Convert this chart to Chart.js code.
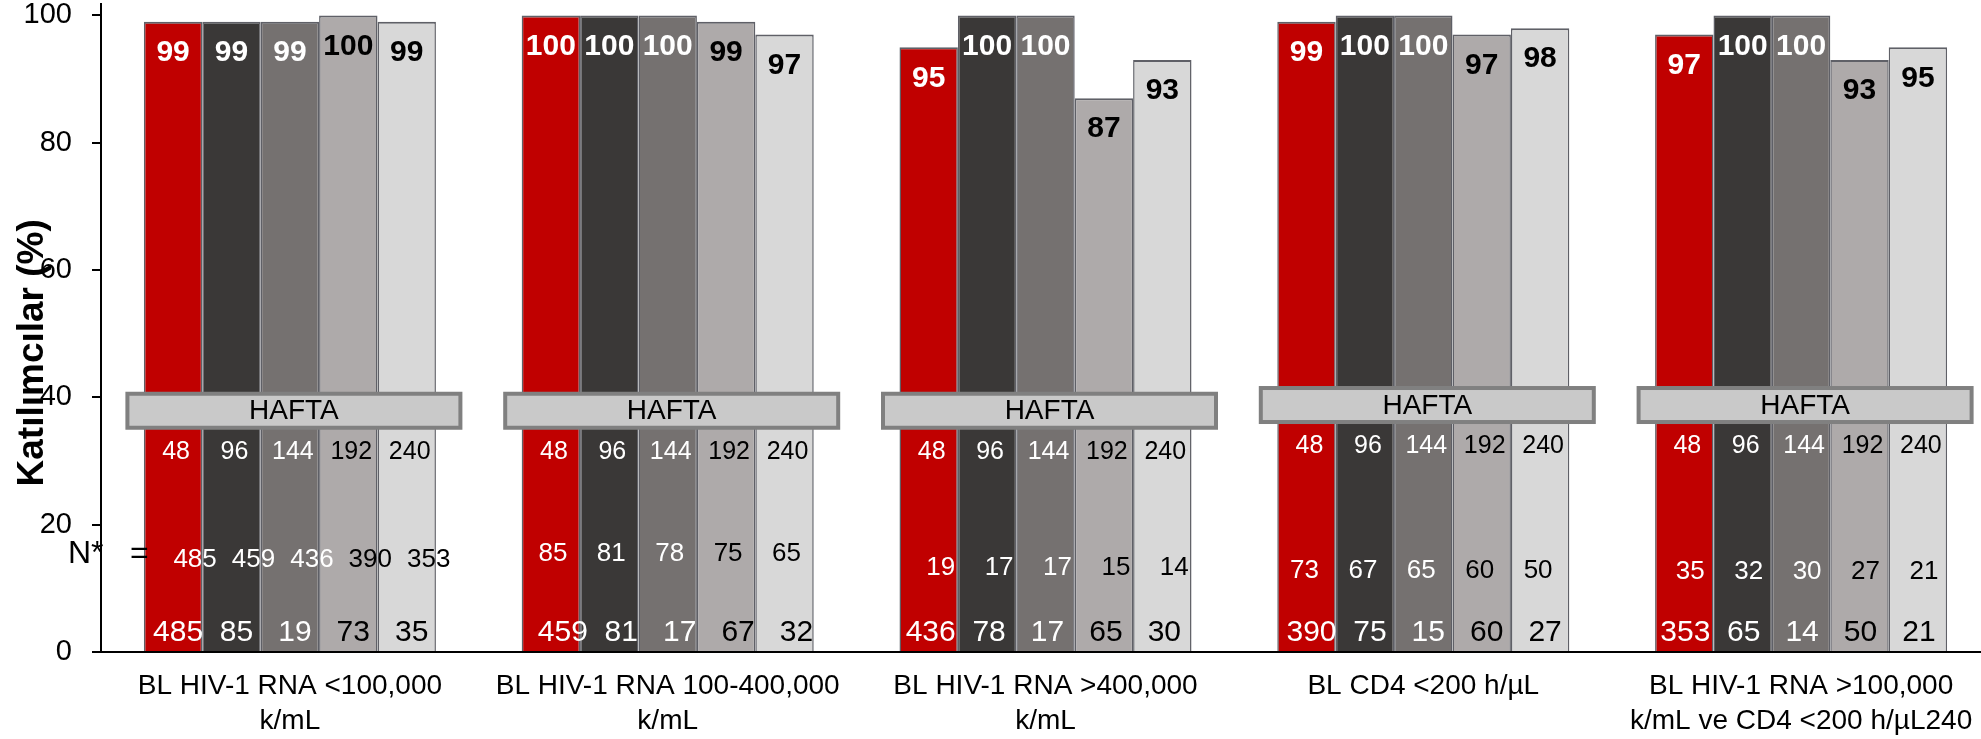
<!DOCTYPE html>
<html lang="tr">
<head>
<meta charset="utf-8">
<title>Katılımcılar (%)</title>
<script src="https://cdn.jsdelivr.net/npm/chart.js@4/dist/chart.umd.min.js"></script>
<style>
  html, body { margin: 0; padding: 0; background: #ffffff; overflow: hidden; }
  #wrap { position: relative; width: 1990px; height: 739px; }
</style>
</head>
<body>
<div id="wrap"><canvas id="chart"></canvas></div>
<script>
// Subgroups (x-axis categories)
const categories = [
  ['BL HIV-1 RNA <100,000', 'k/mL'],
  ['BL HIV-1 RNA 100-400,000', 'k/mL'],
  ['BL HIV-1 RNA >400,000', 'k/mL'],
  'BL CD4 <200 h/µL',
  ['BL HIV-1 RNA >100,000', 'k/mL ve CD4 <200 h/µL240']
];

// Week labels (one series per week)
const weeks = ['48', '96', '144', '192', '240'];

// Participants (%) per subgroup, one array per week
const week48  = [99, 100, 95, 99, 97];
const week96  = [99, 100, 100, 100, 100];
const week144 = [99, 100, 100, 100, 100];
const week192 = [100, 99, 87, 97, 93];
const week240 = [99, 97, 93, 98, 95];

// N* counts printed under the week row, per subgroup (in week order)
const nStarRow = [
  [485, 459, 436, 390, 353],
  [85, 81, 78, 75, 65],
  [19, 17, 17, 15, 14],
  [73, 67, 65, 60, 50],
  [35, 32, 30, 27, 21]
];

// Counts printed at the foot of the bars, per subgroup (in week order)
const nBaseRow = [
  [485, 85, 19, 73, 35],
  [459, 81, 17, 67, 32],
  [436, 78, 17, 65, 30],
  [390, 75, 15, 60, 27],
  [353, 65, 14, 50, 21]
];

const yTicks = [0, 20, 40, 60, 80, 100];

const seriesValues = [week48, week96, week144, week192, week240];
const fills = ['#C00000', '#3A3837', '#757170', '#AEAAAA', '#D8D8D8'];
const textColours = ['#ffffff', '#ffffff', '#ffffff', '#000000', '#000000'];
const FONT = '"Liberation Sans", Arial, sans-serif';

// Placement of the annotation rows (value units on the y scale / pixel shifts)
const boxCentre = [37.9, 37.9, 37.9, 38.8, 38.8];
const nStarLevel = [14.5, 15.4, 13.2, 12.7, 12.6];
const nStarShift = [22, 2, 12, -2, 6];
const nBaseLevel = 3.1;
const nBaseShift = [5, 12, 2, 5, 1];

const annotations = {
  id: 'annotations',
  afterDatasetsDraw(chart) {
    const ctx = chart.ctx;
    const y = chart.scales.y;
    const metas = seriesValues.map((_, i) => chart.getDatasetMeta(i));
    ctx.save();

    // value labels at the top of each bar
    ctx.font = 'bold 30px ' + FONT;
    ctx.textAlign = 'center';
    ctx.textBaseline = 'middle';
    metas.forEach((meta, d) => {
      ctx.fillStyle = textColours[d];
      meta.data.forEach((bar, g) => {
        ctx.fillText(String(seriesValues[d][g]), bar.x, bar.y + 31);
      });
    });

    categories.forEach((_, g) => {
      const first = metas[0].data[g];
      const last = metas[metas.length - 1].data[g];
      const left = first.x - first.width / 2;
      const right = last.x + last.width / 2;
      const cx = (left + right) / 2 + 4;
      const cy = y.getPixelForValue(boxCentre[g]);

      // "HAFTA" banner
      const bw = 333, bh = 34;
      ctx.fillStyle = '#C9C9C9';
      ctx.fillRect(cx - bw / 2, cy - bh / 2, bw, bh);
      ctx.strokeStyle = '#808080';
      ctx.lineWidth = 4;
      ctx.strokeRect(cx - bw / 2, cy - bh / 2, bw, bh);
      ctx.fillStyle = '#000000';
      ctx.font = '28px ' + FONT;
      ctx.textAlign = 'center';
      ctx.textBaseline = 'middle';
      ctx.fillText('HAFTA', cx, cy + 1);

      metas.forEach((meta, d) => {
        const bar = meta.data[g];
        ctx.fillStyle = textColours[d];
        ctx.font = '25px ' + FONT;
        ctx.fillText(weeks[d], bar.x + 3, cy + 41);
        ctx.font = '26px ' + FONT;
        ctx.fillText(String(nStarRow[g][d]), bar.x + nStarShift[g], y.getPixelForValue(nStarLevel[g]));
        ctx.font = '30px ' + FONT;
        ctx.fillText(String(nBaseRow[g][d]), bar.x + nBaseShift[g], y.getPixelForValue(nBaseLevel));
      });
    });

    // N* marker on the left
    ctx.fillStyle = '#000000';
    ctx.font = '32px ' + FONT;
    ctx.textAlign = 'left';
    ctx.textBaseline = 'alphabetic';
    ctx.fillText('N*', 68, 563);
    ctx.fillText('=', 130, 563);
    ctx.restore();
  },
  afterDraw(chart) {
    const ctx = chart.ctx;
    const y = chart.scales.y;
    ctx.save();
    ctx.translate(43, y.getPixelForValue(47));
    ctx.rotate(-Math.PI / 2);
    ctx.font = 'bold 37px ' + FONT;
    ctx.fillStyle = '#000000';
    ctx.textAlign = 'center';
    ctx.textBaseline = 'alphabetic';
    ctx.fillText('Katılımcılar (%)', 0, 0);
    ctx.restore();
  }
};

new Chart(document.getElementById('chart'), {
  type: 'bar',
  data: {
    labels: categories,
    datasets: seriesValues.map((vals, i) => ({
      label: weeks[i],
      data: vals,
      backgroundColor: fills[i],
      borderColor: '#5F6067',
      borderWidth: { top: 2, left: 1.5, right: 1.5, bottom: 0 },
      borderSkipped: false,
      categoryPercentage: 0.773,
      barPercentage: 1.0
    }))
  },
  options: {
    responsive: true,
    maintainAspectRatio: false,
    animation: false,
    events: [],
    layout: { padding: { top: 4, left: 0, right: 0, bottom: 0 } },
    plugins: { legend: { display: false }, tooltip: { enabled: false } },
    scales: {
      x: {
        grid: { display: false, drawTicks: false },
        border: { display: true, color: '#000000', width: 2 },
        ticks: {
          color: '#000000',
          font: { family: FONT, size: 28, lineHeight: 1.25 },
          padding: 17,
          maxRotation: 0,
          autoSkip: false
        },
        afterFit(scale) { scale.height = 87; }
      },
      y: {
        min: 0,
        max: 101.8,
        afterBuildTicks(scale) { scale.ticks = yTicks.map(v => ({ value: v })); },
        grid: { drawOnChartArea: false, drawTicks: true, tickLength: 9, color: '#000000', lineWidth: 2 },
        border: { display: true, color: '#000000', width: 2 },
        ticks: {
          color: '#000000',
          font: { family: FONT, size: 29, lineHeight: 1 },
          padding: 20
        },
        afterFit(scale) {
          scale.width = 101;
          scale.paddingTop = 0;
          scale.paddingBottom = 0;
        }
      }
    }
  },
  plugins: [annotations]
});
</script>
</body>
</html>
